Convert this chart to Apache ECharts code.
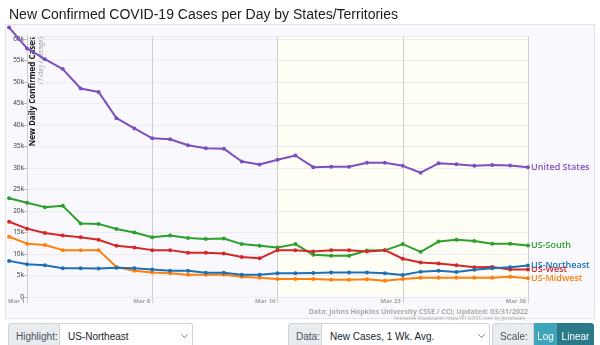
<!DOCTYPE html>
<html>
<head>
<meta charset="utf-8">
<script src="https://cdn.jsdelivr.net/npm/echarts@6/dist/echarts.min.js"></script>
<style>
  html, body { margin: 0; padding: 0; width: 600px; height: 345px; overflow: hidden; background: #fff;
    font-family: "Liberation Sans", Arial, sans-serif; }
  #frame { position: absolute; left: 5px; top: 24px; width: 590px; height: 295px; background: #f9f9fd;
    border: 1px solid #e3e3ea; box-sizing: border-box; }
  #chart { position: absolute; left: 0; top: 0; width: 600px; height: 345px; }
  .ctl { position: absolute; top: 323px; height: 26px; display: flex; font-size: 10px; color: #495057; }
  .lab { background: #e9ecef; border: 1px solid #ced4da; border-radius: 3px 0 0 3px; display: flex;
    align-items: center; padding: 0 0 0 7px; box-sizing: border-box; }
  .sel { background: #fff; border: 1px solid #ced4da; border-left: none; border-radius: 0 3px 3px 0; display: flex;
    align-items: center; justify-content: space-between; padding: 0 4px 0 8px; box-sizing: border-box; color: #212529; }
  .btn { display: flex; align-items: center; justify-content: center; color: #fff; box-sizing: border-box; }
</style>
</head>
<body>
<div id="frame"></div>
<div id="chart"></div>

<div class="ctl" style="left:8px;">
  <div class="lab" style="width:52px;">Highlight:</div>
  <div class="sel" style="width:133px;"><span>US-Northeast</span>
    <svg width="7" height="5"><polyline points="0.5,0.5 3.5,3.5 6.5,0.5" fill="none" stroke="#777" stroke-width="0.9"/></svg></div>
</div>
<div class="ctl" style="left:288px;">
  <div class="lab" style="width:34px;">Data:</div>
  <div class="sel" style="width:168px;"><span>New Cases, 1 Wk. Avg.</span>
    <svg width="7" height="5"><polyline points="0.5,0.5 3.5,3.5 6.5,0.5" fill="none" stroke="#777" stroke-width="0.9"/></svg></div>
</div>
<div class="ctl" style="left:492px;">
  <div class="lab" style="width:42px;">Scale:</div>
  <div class="btn" style="width:23px;background:#3ea5ba;">Log</div>
  <div class="btn" style="width:37px;background:#2b7a89;border-radius:0 3px 3px 0;">Linear</div>
</div>

<script>
// Day offsets from Mar 1 for each 7-day-average point
const days = [-1, 0, 1, 2, 3, 4, 5, 6, 7, 8, 9, 10, 11, 12, 13, 14, 15, 16, 17, 18, 19, 20, 21, 22, 23, 24, 25, 26, 27, 28];

// Tick labels along the time axis (one every 7 days)
const tickLabels = ['Mar 1', 'Mar 8', 'Mar 16', 'Mar 23', 'Mar 30'];

// New daily confirmed cases, 7-day average, in thousands
const unitedStates = [62.7, 57.8, 55.3, 53.0, 48.5, 47.7, 41.6, 39.2, 36.9, 36.7, 35.3, 34.6, 34.5, 31.5, 30.8,
  31.9, 32.9, 30.2, 30.3, 30.3, 31.2, 31.2, 30.5, 28.9, 31.1, 30.9, 30.5, 30.7, 30.6, 30.2];
const usSouth = [22.95, 21.9, 20.9, 21.2, 17.1, 17.0, 15.8, 15.0, 13.9, 14.3, 13.7, 13.5, 13.6, 12.3, 11.9,
  11.5, 12.3, 9.8, 9.6, 9.6, 10.8, 10.85, 12.3, 10.5, 12.9, 13.3, 13.0, 12.4, 12.4, 12.0];
const usMidwest = [14.0, 12.4, 12.1, 10.9, 10.9, 10.9, 7.0, 6.1, 5.7, 5.5, 5.2, 5.2, 5.2, 4.7, 4.5,
  4.2, 4.2, 4.2, 4.0, 4.0, 4.1, 3.8, 4.2, 4.5, 4.5, 4.5, 4.5, 4.5, 4.7, 4.35];
const usWest = [17.5, 15.9, 14.9, 14.3, 13.9, 13.3, 11.9, 11.5, 10.9, 10.9, 10.3, 10.3, 10.1, 9.3, 9.0,
  10.9, 10.9, 10.6, 10.9, 10.9, 10.6, 10.9, 8.9, 8.0, 7.8, 7.4, 6.9, 7.0, 6.4, 6.4];
const usNortheast = [8.4, 7.6, 7.4, 6.7, 6.7, 6.6, 6.8, 6.7, 6.4, 6.1, 6.1, 5.65, 5.65, 5.2, 5.2,
  5.5, 5.5, 5.6, 5.7, 5.7, 5.7, 5.5, 5.1, 5.9, 6.1, 5.8, 6.35, 6.7, 6.9, 7.3];

// Series drawn back to front; the highlighted region goes last
const regions = [
  { name: 'United States', values: unitedStates, color: '#7d4fbe' },
  { name: 'US-South', values: usSouth, color: '#2ca02c' },
  { name: 'US-Midwest', values: usMidwest, color: '#ff7f0e' },
  { name: 'US-West', values: usWest, color: '#d62728' },
  { name: 'US-Northeast', values: usNortheast, color: '#1f6fb4' }
];

// Scale geometry: the ruled plot spans Mar 1..Mar 30 and 0..60.7k; the line layer shares the
// same scale but reaches further left/up so the Feb 28 point and the 60k+ peak are not cut.
const PX_PER_DAY = 501 / 28;
const PX_PER_K = 261 / 60.7;
const dataXMin = -22 / PX_PER_DAY;
const dataYMax = 60.7 + 12 / PX_PER_K;

const chart = echarts.init(document.getElementById('chart'), null, { renderer: 'canvas' });

const lineSeries = regions.map(r => ({
  name: r.name,
  type: 'line',
  xAxisIndex: 1,
  yAxisIndex: 1,
  data: days.map((d, i) => [d, r.values[i]]),
  symbol: 'circle',
  symbolSize: 4,
  lineStyle: { color: r.color, width: 2 },
  itemStyle: { color: r.color },
  emphasis: { disabled: true },
  endLabel: {
    show: true,
    formatter: r.name,
    color: r.color,
    fontFamily: '"Open Sans", sans-serif',
    fontSize: 9,
    fontWeight: 600,
    distance: 3
  }
}));

// Shaded recent-weeks band and the closing rule at the last date
const bandSeries = {
  type: 'line',
  xAxisIndex: 0,
  yAxisIndex: 0,
  data: [],
  silent: true,
  markArea: {
    silent: true,
    itemStyle: { color: '#fefef5' },
    data: [[{ xAxis: 14, yAxis: -1.3 }, { xAxis: 28, yAxis: 60.7 }]]
  },
  markLine: {
    silent: true,
    symbol: 'none',
    label: { show: false },
    lineStyle: { color: '#999', width: 1.5, type: 'solid' },
    data: [[{ xAxis: 28, yAxis: -1.3 }, { xAxis: 28, yAxis: 60.7 }]]
  }
};

const hiddenAxis = {
  axisLine: { show: false }, axisTick: { show: false }, axisLabel: { show: false }, splitLine: { show: false }
};

chart.setOption({
  animation: false,
  title: {
    text: 'New Confirmed COVID-19 Cases per Day by States/Territories',
    left: 4,
    top: 3,
    textStyle: { fontSize: 14, fontWeight: 'normal', color: '#1a1a1a', fontFamily: '"Liberation Sans", Arial, sans-serif' }
  },
  grid: [
    { left: 27, right: 72, top: 36, bottom: 48 },
    { left: 5, right: 72, top: 24, bottom: 48 }
  ],
  xAxis: [
    {
      type: 'value',
      gridIndex: 0,
      min: 0,
      max: 28,
      interval: 7,
      z: 1.5,
      axisLine: { show: false },
      axisTick: { show: true, length: 6, lineStyle: { color: '#cfcfcf' } },
      splitLine: { show: true, lineStyle: { color: '#cfcfcf', width: 1 } },
      axisLabel: {
        formatter: v => tickLabels[Math.round(v / 7)] || '',
        align: 'right',
        margin: 1,
        padding: [0, 2, 0, 0],
        fontSize: 6,
        fontWeight: 'bold',
        color: '#a0a0a0',
        fontFamily: '"Open Sans", sans-serif'
      }
    },
    Object.assign({ type: 'value', gridIndex: 1, min: dataXMin, max: 28 }, hiddenAxis)
  ],
  yAxis: [
    {
      type: 'value',
      gridIndex: 0,
      min: 0,
      max: 60.7,
      interval: 5,
      z: 1.5,
      axisLine: { show: true, lineStyle: { color: '#cfcfcf' } },
      axisTick: { show: true, length: 4, lineStyle: { color: '#bbb' } },
      splitLine: { show: true, lineStyle: { color: '#ebebf0' } },
      axisLabel: {
        formatter: v => (v === 0 ? '0' : v + 'k'),
        showMaxLabel: false,
        fontSize: 6.5,
        margin: 3,
        color: '#333',
        fontFamily: '"Open Sans", sans-serif'
      }
    },
    Object.assign({ type: 'value', gridIndex: 1, min: 0, max: dataYMax }, hiddenAxis)
  ],
  graphic: [
    {
      type: 'text', x: 33, y: 37, rotation: Math.PI / 2,
      style: { text: 'New Daily Confirmed Cases', align: 'right', verticalAlign: 'middle',
        font: 'bold 8px "Open Sans", sans-serif', fill: '#111' }
    },
    {
      type: 'text', x: 41, y: 37, rotation: Math.PI / 2,
      style: { text: '(7-day Average)', align: 'right', verticalAlign: 'middle',
        font: '6.5px "Open Sans", sans-serif', fill: '#999' }
    },
    {
      type: 'text', right: 72, top: 308,
      style: { text: 'Data: Johns Hopkins University CSSE / CCI; Updated: 03/31/2022',
        font: 'bold 7px "Open Sans", sans-serif', fill: '#aaa' }
    },
    {
      type: 'text', right: 73, top: 316,
      style: { text: 'Interactive Visualization: https://91-DIVOC.com/ by @profwade_',
        font: '4.5px "Open Sans", sans-serif', fill: '#aaa' }
    }
  ],
  series: [bandSeries].concat(lineSeries)
});
</script>
</body>
</html>
